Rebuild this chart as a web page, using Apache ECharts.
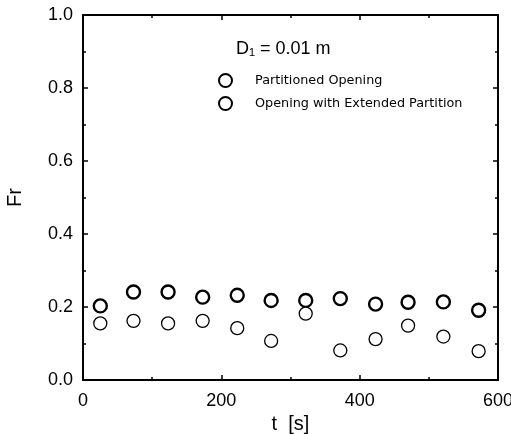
<!DOCTYPE html>
<html>
<head>
<meta charset="utf-8">
<script src="https://cdn.jsdelivr.net/npm/echarts@6/dist/echarts.min.js"></script>
<style>
  html, body { margin: 0; padding: 0; background: #fff; }
  #chart { width: 511px; height: 434px; }
</style>
</head>
<body>
<div id="chart"></div>
<script>
// --- Data ---
const timeValues = [25, 73, 123, 173, 223, 272, 322, 372, 423, 470, 521, 572];
const partitionedFr = [0.203, 0.241, 0.241, 0.227, 0.232, 0.218, 0.218, 0.223, 0.208, 0.213, 0.214, 0.191];
const extendedFr = [0.155, 0.162, 0.155, 0.162, 0.142, 0.107, 0.182, 0.081, 0.112, 0.149, 0.119, 0.079];
const seriesNames = ['Partitioned Opening', 'Opening with Extended Partition'];

const chart = echarts.init(document.getElementById('chart'));

const pair = (xs, ys) => xs.map((x, i) => [x, ys[i]]);

// shared look for all four sides of the box
const boxAxis = {
    axisLine: { show: true, onZero: false, lineStyle: { color: '#000', width: 2 } },
    axisTick: { show: true, inside: true, length: 5, lineStyle: { color: '#000', width: 1.5 } },
    minorTick: { show: true, splitNumber: 2, length: 3, lineStyle: { color: '#000', width: 1.5 } },
    splitLine: { show: false },
    minorSplitLine: { show: false }
};

const labelFont = { color: '#000', fontFamily: 'Liberation Sans', fontSize: 18 };

const option = {
    backgroundColor: '#fff',
    animation: false,
    title: {
        text: 'D\u2081 = 0.01 m',
        left: 231, top: 35,
        textStyle: { color: '#000', fontFamily: 'Liberation Sans', fontSize: 18, fontWeight: 'normal' }
    },
    legend: {
        orient: 'vertical',
        left: 213, top: 68,
        itemGap: 8,
        itemWidth: 13, itemHeight: 13,
        data: seriesNames,
        textStyle: { color: '#000', fontFamily: 'DejaVu Sans', fontSize: 12.8, padding: [0, 0, 0, 18] }
    },
    grid: { left: 83, right: 13, top: 15, bottom: 54, outerBoundsMode: 'none', containLabel: false },
    xAxis: [
        Object.assign({
            type: 'value', min: 0, max: 600, interval: 200,
            name: 't  [s]', nameLocation: 'middle', nameGap: 34,
            nameTextStyle: { color: '#000', fontFamily: 'Liberation Sans', fontSize: 20 },
            axisLabel: Object.assign({ margin: 12 }, labelFont)
        }, boxAxis),
        Object.assign({
            type: 'value', min: 0, max: 600, interval: 200, position: 'top',
            axisLabel: { show: false }
        }, boxAxis)
    ],
    yAxis: [
        Object.assign({
            type: 'value', min: 0, max: 1, interval: 0.2,
            name: 'Fr', nameLocation: 'middle', nameGap: 58,
            nameTextStyle: { color: '#000', fontFamily: 'Liberation Sans', fontSize: 20 },
            axisLabel: Object.assign({ margin: 10, formatter: v => v.toFixed(1) }, labelFont)
        }, boxAxis),
        Object.assign({
            type: 'value', min: 0, max: 1, interval: 0.2, position: 'right',
            axisLabel: { show: false }
        }, boxAxis)
    ],
    series: [
        {
            name: seriesNames[0],
            type: 'scatter',
            symbol: 'circle',
            symbolSize: 13,
            itemStyle: { color: '#fff', borderColor: '#000', borderWidth: 2.4, opacity: 1 },
            data: pair(timeValues, partitionedFr)
        },
        {
            name: seriesNames[1],
            type: 'scatter',
            symbol: 'circle',
            symbolSize: 13,
            itemStyle: { color: '#fff', borderColor: '#000', borderWidth: 1.3, opacity: 1 },
            data: pair(timeValues, extendedFr)
        }
    ]
};

chart.setOption(option);
</script>
</body>
</html>
